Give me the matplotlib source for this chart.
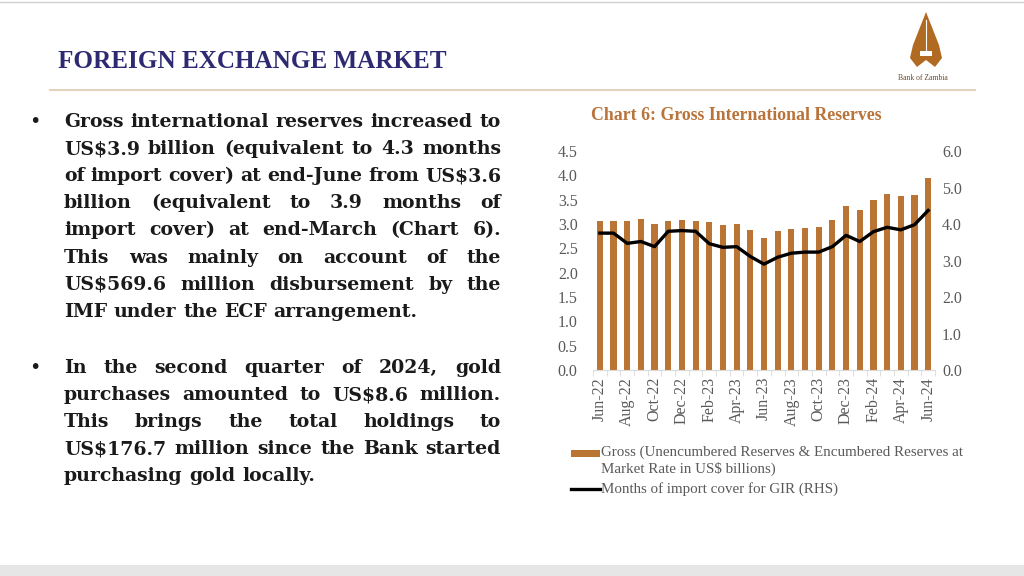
import numpy as np
import matplotlib
matplotlib.use("Agg")
import matplotlib.pyplot as plt
from matplotlib.patches import Polygon, Rectangle
from matplotlib.lines import Line2D

months = ["Jun-22", "Jul-22", "Aug-22", "Sep-22", "Oct-22", "Nov-22", "Dec-22",
          "Jan-23", "Feb-23", "Mar-23", "Apr-23", "May-23", "Jun-23", "Jul-23",
          "Aug-23", "Sep-23", "Oct-23", "Nov-23", "Dec-23", "Jan-24", "Feb-24",
          "Mar-24", "Apr-24", "May-24", "Jun-24"]
gross = [3.07, 3.07, 3.07, 3.11, 2.99, 3.06, 3.09, 3.07, 3.05, 2.97, 2.99, 2.88,
         2.71, 2.86, 2.89, 2.92, 2.94, 3.09, 3.36, 3.28, 3.50, 3.62, 3.57, 3.60, 3.95]
import_cover = [3.75, 3.75, 3.47, 3.52, 3.38, 3.80, 3.82, 3.80, 3.46, 3.36, 3.38, 3.11,
                2.90, 3.09, 3.20, 3.23, 3.23, 3.38, 3.69, 3.52, 3.79, 3.91, 3.84, 3.98, 4.37]

para1 = ["Gross international reserves increased to",
         "US$3.9 billion (equivalent to 4.3 months",
         "of import cover) at end-June from US$3.6",
         "billion (equivalent to 3.9 months of",
         "import cover) at end-March (Chart 6).",
         "This was mainly on account of the",
         "US$569.6 million disbursement by the",
         "IMF under the ECF arrangement."]
para2 = ["In the second quarter of 2024, gold",
         "purchases amounted to US$8.6 million.",
         "This brings the total holdings to",
         "US$176.7 million since the Bank started",
         "purchasing gold locally."]

SERIF = ["DejaVu Serif"]
CHART_SERIF = ["Liberation Serif", "DejaVu Serif"]
BAR_COL = "#BA7535"
NAVY = "#2E2A72"
GREY = "#595959"

W, H = 1024, 576
fig = plt.figure(figsize=(W / 100, H / 100), dpi=100)
fig.patch.set_facecolor("white")
renderer = fig.canvas.get_renderer()


def px(x, y):
    return x / W, 1 - y / H


def text_width(s, size, family, weight="bold"):
    t = fig.text(0, 0, s, family=family, weight=weight, size=size, parse_math=False)
    w = t.get_window_extent(renderer).width
    t.remove()
    return w


# slide frame
fig.add_artist(Line2D([0, 1], [1 - 2 / H] * 2, color="#D0D0D0", lw=1))
fig.add_artist(Rectangle((0, 0), 1, 11 / H, color="#E6E6E6", lw=0))
fig.add_artist(Line2D([50 / W, 975 / W], [1 - 90 / H] * 2, color="#E3D3BE", lw=1.5))

fig.text(*px(58, 62), "FOREIGN EXCHANGE MARKET", family=CHART_SERIF, weight="bold",
         size=18.1, color=NAVY, va="center", ha="left")

# logo
logo_x = [926, 913, 910, 917, 926, 935, 942, 939]
logo_y = [12, 45, 58, 67, 60, 67, 58, 45]
fig.add_artist(Polygon(np.column_stack([np.array(logo_x) / W, 1 - np.array(logo_y) / H]),
                       closed=True, color="#B06A22", lw=0))
fig.add_artist(Rectangle(px(920, 56), 12 / W, 5 / H, color="white", lw=0))
fig.add_artist(Line2D([926 / W, 926 / W], [1 - 20 / H, 1 - 54 / H], color="white", lw=0.8))
fig.text(*px(923, 78), "Bank of Zambia", family=CHART_SERIF, size=5.5, color="#6B4A2A",
         ha="center", va="center")

# body text, justified like the slide
x0, x1 = 64, 501
fs = 10 * (x1 - x0) / text_width(para1[0], 10, SERIF)
sp = text_width("a a", fs, SERIF) - text_width("aa", fs, SERIF)


def justified(lines, y0, step):
    for i, line in enumerate(lines):
        y = y0 + i * step
        words = line.split()
        widths = [text_width(w, fs, SERIF) for w in words]
        if i == len(lines) - 1 or len(words) == 1:
            gap = sp
        else:
            gap = (x1 - x0 - sum(widths)) / (len(words) - 1)
        x = x0
        for w, wd in zip(words, widths):
            fig.text(*px(x, y), w, family=SERIF, weight="bold", size=fs,
                     color="#1A1A1A", va="baseline", ha="left", parse_math=False)
            x += wd + gap


fig.text(*px(29, 127), "\u2022", size=14, color="#1A1A1A", va="baseline")
justified(para1, 127, 27.1)
fig.text(*px(29, 373), "\u2022", size=14, color="#1A1A1A", va="baseline")
justified(para2, 373, 27.1)

# chart
fig.text(*px(736, 116), "Chart 6: Gross International Reserves", family=CHART_SERIF,
         weight="bold", size=12.8, color="#B8743A", ha="center", va="center")

ax = fig.add_axes([593 / W, 1 - 370 / H, (935 - 593) / W, (370 - 151) / H])
x = np.arange(len(months))
ax.bar(x, gross, width=0.45, color=BAR_COL, zorder=2)
ax.set_xlim(-0.5, len(months) - 0.5)
ax.set_ylim(0, 4.5)
ax.set_yticks(np.arange(0, 4.51, 0.5))
ax.set_yticklabels([f"{v:.1f}" for v in np.arange(0, 4.51, 0.5)])
ax.set_xticks(x[::2])
ax.set_xticklabels(months[::2], rotation=90)
ax.set_xticks(np.arange(-0.5, len(months), 1), minor=True)
ax.tick_params(axis="x", which="major", length=0, pad=5)
ax.tick_params(axis="x", which="minor", length=4, color="#D9D9D9")
ax.tick_params(axis="y", length=0, pad=11)
for s in ["top", "left", "right"]:
    ax.spines[s].set_visible(False)
ax.spines["bottom"].set_color("#D9D9D9")

ax2 = ax.twinx()
ax2.plot(x, import_cover, color="black", lw=2.4, zorder=3)
ax2.set_ylim(0, 6.0)
ax2.set_yticks(np.arange(0, 6.01, 1.0))
ax2.set_yticklabels([f"{v:.1f}" for v in np.arange(0, 6.01, 1.0)])
ax2.tick_params(axis="y", length=0, pad=5)
for s in ["top", "left", "right", "bottom"]:
    ax2.spines[s].set_visible(False)

for a in (ax, ax2):
    for lab in a.get_xticklabels() + a.get_yticklabels():
        lab.set_family(CHART_SERIF)
        lab.set_fontsize(11.5)
        lab.set_color(GREY)

# legend
fig.add_artist(Rectangle(px(571, 457), 29 / W, 7 / H, color=BAR_COL, lw=0))
fig.text(*px(601, 452), "Gross (Unencumbered Reserves & Encumbered Reserves at",
         family=CHART_SERIF, size=10.8, color=GREY, va="center", ha="left")
fig.text(*px(601, 469), "Market Rate in US$ billions)",
         family=CHART_SERIF, size=10.8, color=GREY, va="center", ha="left")
fig.add_artist(Line2D([571 / W, 600 / W], [1 - 489 / H] * 2, color="black", lw=2.4))
fig.text(*px(601, 489), "Months of import cover for GIR (RHS)",
         family=CHART_SERIF, size=10.8, color=GREY, va="center", ha="left")

fig.savefig("out.png", dpi=100, facecolor="white")
